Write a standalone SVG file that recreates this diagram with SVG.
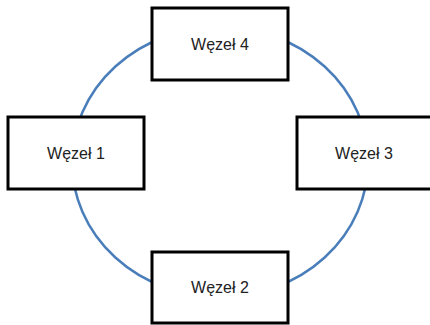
<svg xmlns="http://www.w3.org/2000/svg" width="430" height="325" viewBox="0 0 430 325">
<style>
.node rect{fill:#fff;stroke:#000;stroke-width:3}
.node text{font-family:"Liberation Sans",Arial,sans-serif;font-size:16px;fill:#222;text-anchor:middle}
.link{fill:none;stroke:#4a7ebb;stroke-width:2.5}
</style>
<rect width="430" height="325" fill="#fff"/>
<g id="connectors">
<ellipse class="link" cx="220" cy="162" rx="148" ry="135"/>
</g>
<g id="node4" class="node"><rect x="152" y="8" width="136" height="72"/><text x="220" y="50">Węzeł 4</text></g>
<g id="node1" class="node"><rect x="8" y="117" width="136" height="72"/><text x="76" y="159">Węzeł 1</text></g>
<g id="node3" class="node"><rect x="297" y="117" width="136" height="72"/><text x="364" y="159">Węzeł 3</text></g>
<g id="node2" class="node"><rect x="152" y="252" width="136" height="71"/><text x="220" y="293">Węzeł 2</text></g>
</svg>
